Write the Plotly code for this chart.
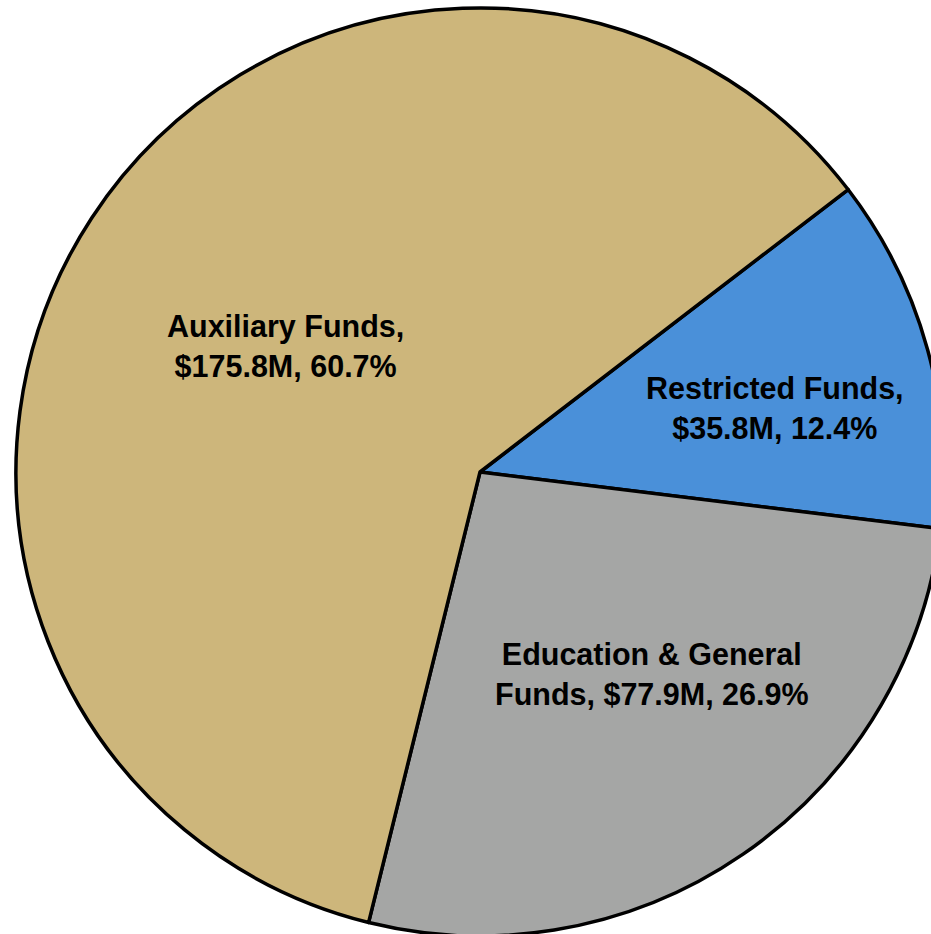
import plotly.graph_objects as go

# Fund categories and amounts (millions of dollars)
categories = ["Restricted Funds", "Education & General Funds", "Auxiliary Funds"]
label_lines = ["Restricted Funds,<br>", "Education & General<br>Funds, ", "Auxiliary Funds,<br>"]
amounts = [35.8, 77.9, 175.8]
colors = ["#4A90D9", "#A5A6A5", "#CDB67B"]

total = sum(amounts)
shares = [a / total * 100 for a in amounts]
texts = [f"{lead}${a:.1f}M, {s:.1f}%" for lead, a, s in zip(label_lines, amounts, shares)]

# label anchor points (paper coordinates)
label_x = [0.818, 0.685, 0.290]
label_y = [0.569, 0.282, 0.636]

fig = go.Figure(
    go.Pie(
        labels=categories,
        values=amounts,
        sort=False,
        direction="clockwise",
        rotation=52.5,
        marker=dict(colors=colors, line=dict(color="black", width=3.5)),
        textinfo="none",
        hoverinfo="label+value+percent",
        showlegend=False,
    )
)

for t, x, y in zip(texts, label_x, label_y):
    fig.add_annotation(
        x=x, y=y, xref="paper", yref="paper",
        xanchor="center", yanchor="middle",
        text=t, showarrow=False,
        font=dict(family="Liberation Sans, Arial, sans-serif", size=30.5, color="black", weight="bold"),
        align="center",
    )

fig.update_layout(
    width=960,
    height=944,
    margin=dict(l=16, r=16, t=8, b=8),
    paper_bgcolor="white",
    plot_bgcolor="white",
)

fig.write_html(
    "out.html",
    post_script="document.body.style.margin='0';document.body.style.overflow='hidden';",
)
